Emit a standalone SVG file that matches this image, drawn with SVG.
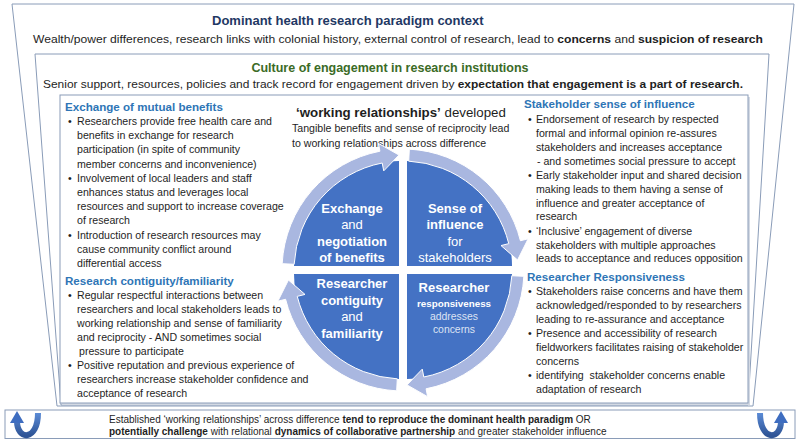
<svg xmlns="http://www.w3.org/2000/svg" width="800" height="440" viewBox="0 0 800 440">
<defs>
<style>
text{font-family:"Liberation Sans",Arial,sans-serif}
.frame{fill:#fff;stroke:#8A9CB8;stroke-width:1}
.b{font-size:10.6px;fill:#1e1e1e}
.h{font-size:11.6px;font-weight:bold;fill:#2E75B6}
.bd{font-weight:bold}
.q{fill:#4472C4}
.qt{fill:#fff;font-size:13px;text-anchor:middle}
.ring{fill:#A9B7E0;stroke:#fff;stroke-width:1}
.bt{font-size:10px;fill:#1e1e1e}
</style>
<linearGradient id="ug" x1="0" y1="0" x2="0" y2="1">
<stop offset="0" stop-color="#5B8BD6"/>
<stop offset="1" stop-color="#2F5597"/>
</linearGradient>
</defs>
<rect width="800" height="440" fill="#fff"/>

<g id="context">
<polygon class="frame" points="12,4 794,4 753,406 57,406"/>
<text x="212" y="25" font-size="13" font-weight="bold" fill="#1F3864">Dominant health research paradigm context</text>
<text x="33" y="43" font-size="11" fill="#1e1e1e" textLength="730" lengthAdjust="spacingAndGlyphs">Wealth/power differences, research links with colonial history, external control of research, lead to <tspan class="bd">concerns</tspan> and <tspan class="bd">suspicion of research</tspan></text>
</g>

<g id="culture">
<polygon class="frame" points="35,54 769,54 748,405 61,405"/>
<text x="390" y="72" font-size="12.5" font-weight="bold" fill="#3B6B26" text-anchor="middle">Culture of engagement in research institutions</text>
<text x="43" y="88" font-size="11" fill="#1e1e1e" textLength="700" lengthAdjust="spacingAndGlyphs">Senior support, resources, policies and track record for engagement driven by <tspan class="bd">expectation that engagement is a part of research.</tspan></text>
</g>

<g id="panel-box">
<rect x="62" y="97" width="688" height="308" fill="#D3D9E3"/>
<rect x="60" y="95" width="688" height="308" fill="#fff" stroke="#8A9CB8" stroke-width="1"/>
</g>

<g id="exchange-panel" class="b">
<text class="h" x="65" y="111">Exchange of mutual benefits</text>
<text x="68" y="125">•</text><text x="77" y="125">Researchers provide free health care and</text>
<text x="77" y="139.2">benefits in exchange for research</text>
<text x="77" y="153.4">participation (in spite of community</text>
<text x="77" y="167.6">member concerns and inconvenience)</text>
<text x="68" y="181.8">•</text><text x="77" y="181.8">Involvement of local leaders and staff</text>
<text x="77" y="196">enhances status and leverages local</text>
<text x="77" y="210.2">resources and support to increase coverage</text>
<text x="77" y="224.4">of research</text>
<text x="68" y="238.6">•</text><text x="77" y="238.6">Introduction of research resources may</text>
<text x="77" y="252.8">cause community conflict around</text>
<text x="77" y="267">differential access</text>
</g>

<g id="contiguity-panel" class="b">
<text class="h" x="65" y="284.5">Research contiguity/familiarity</text>
<text x="68" y="299">•</text><text x="77" y="299">Regular respectful interactions between</text>
<text x="77" y="313">researchers and local stakeholders leads to</text>
<text x="77" y="327">working relationship and sense of familiarity</text>
<text x="77" y="341">and reciprocity - AND sometimes social</text>
<text x="79" y="355">pressure to participate</text>
<text x="68" y="369">•</text><text x="77" y="369">Positive reputation and previous experience of</text>
<text x="77" y="383">researchers increase stakeholder confidence and</text>
<text x="77" y="397">acceptance of research</text>
</g>

<g id="working-relationships">
<text x="296" y="117" font-size="13.3" fill="#1e1e1e"><tspan class="bd">‘working relationships’</tspan> developed</text>
<text class="b" x="292" y="132">Tangible benefits and sense of reciprocity lead</text>
<text class="b" x="292" y="147">to working relationships across difference</text>
</g>

<g id="influence-panel" class="b">
<text class="h" x="524" y="107.5">Stakeholder sense of influence</text>
<text x="528" y="123">•</text><text x="536" y="123">Endorsement of research by respected</text>
<text x="536" y="137">formal and informal opinion re-assures</text>
<text x="536" y="151">stakeholders and increases acceptance</text>
<text x="537" y="165">- and sometimes social pressure to accept</text>
<text x="528" y="178.5">•</text><text x="536" y="178.5">Early stakeholder input and shared decision</text>
<text x="536" y="192.5">making leads to them having a sense of</text>
<text x="536" y="206.5">influence and greater acceptance of</text>
<text x="536" y="220">research</text>
<text x="528" y="234.5">•</text><text x="536" y="234.5">‘Inclusive’ engagement of diverse</text>
<text x="536" y="248.5">stakeholders with multiple approaches</text>
<text x="536" y="262">leads to acceptance and reduces opposition</text>
</g>

<g id="responsiveness-panel" class="b">
<text class="h" x="527" y="280.5">Researcher Responsiveness</text>
<text x="528" y="295">•</text><text x="536" y="295">Stakeholders raise concerns and have them</text>
<text x="536" y="309">acknowledged/responded to by researchers</text>
<text x="536" y="323">leading to re-assurance and acceptance</text>
<text x="528" y="337">•</text><text x="536" y="337">Presence and accessibility of research</text>
<text x="536" y="351">fieldworkers facilitates raising of stakeholder</text>
<text x="536" y="365">concerns</text>
<text x="528" y="379">•</text><text x="536" y="379" style="white-space:pre">identifying  stakeholder concerns enable</text>
<text x="536" y="392.5">adaptation of research</text>
</g>

<g id="q-exchange">
<path class="q" d="M399,266 L294,266 A105,105 0 0 1 399,161 Z"/>
<text class="qt" x="352" y="212.5"><tspan class="bd">Exchange</tspan></text>
<text class="qt" x="352" y="229">and</text>
<text class="qt bd" x="352" y="245.5">negotiation</text>
<text class="qt bd" x="352" y="262">of benefits</text>
</g>
<g id="q-influence">
<path class="q" d="M407,266 L407,161 A105,105 0 0 1 512,266 Z"/>
<text class="qt bd" x="455" y="212.5">Sense of</text>
<text class="qt bd" x="455" y="229">influence</text>
<text class="qt" x="455" y="245.5">for</text>
<text class="qt" x="455" y="262">stakeholders</text>
</g>
<g id="q-responsiveness">
<path class="q" d="M407,274 L512,274 A105,105 0 0 1 407,379 Z"/>
<text class="qt bd" x="454" y="291.5" font-size="11.5">Researcher</text>
<text class="qt bd" x="454" y="306.5" style="font-size:9.8px">responsiveness</text>
<text class="qt" x="454" y="320" style="font-size:10.4px;fill:#DCE3F3">addresses</text>
<text class="qt" x="454" y="333" style="font-size:10.4px;fill:#DCE3F3">concerns</text>
</g>
<g id="q-contiguity">
<path class="q" d="M399,274 L399,379 A105,105 0 0 1 294,274 Z"/>
<text class="qt bd" x="352" y="288">Researcher</text>
<text class="qt bd" x="352" y="304.5">contiguity</text>
<text class="qt" x="352" y="321">and</text>
<text class="qt bd" x="352" y="337.5">familiarity</text>
</g>

<g id="connectors">
<path class="ring" d="M282.17,263.67 A121,121 0 0 1 379.91,151.22 L378.39,143.37 L398.99,155.07 L383.73,170.86 L382.2,163 A109,109 0 0 0 294.15,264.29 Z"/>
<path class="ring" d="M409.33,149.17 A121,121 0 0 1 520.41,240.73 L528.17,238.79 L517.56,259.98 L501,245.57 L508.76,243.63 A109,109 0 0 0 408.71,161.15 Z"/>
<path class="ring" d="M523.83,276.33 A121,121 0 0 1 426.09,388.78 L427.61,396.63 L407.01,384.93 L422.27,369.14 L423.8,377 A109,109 0 0 0 511.85,275.71 Z"/>
<path class="ring" d="M396.67,390.83 A121,121 0 0 1 285.59,299.27 L277.83,301.21 L288.44,280.02 L305,294.43 L297.24,296.37 A109,109 0 0 0 397.29,378.85 Z"/>
</g>

<g id="outcome">
<rect x="5" y="410" width="790" height="28.5" fill="#fff" stroke="#8A9CB8" stroke-width="1"/>
<text class="bt" x="109" y="422.5">Established ‘working relationships’ across difference <tspan class="bd">tend to reproduce the dominant health paradigm</tspan> OR</text>
<text class="bt" x="109" y="435"><tspan class="bd">potentially challenge</tspan> with relational <tspan class="bd">dynamics of collaborative partnership</tspan> and greater stakeholder influence</text>
<path d="M17,421 C17,441 38,441 38,413" fill="none" stroke="url(#ug)" stroke-width="6"/>
<polygon points="10,423 24,423 17,411" fill="#3E6DC0"/>
<path d="M760,413 C760,441 781,441 781,421" fill="none" stroke="url(#ug)" stroke-width="6"/>
<polygon points="774,423 788,423 781,411" fill="#3E6DC0"/>
</g>
</svg>
